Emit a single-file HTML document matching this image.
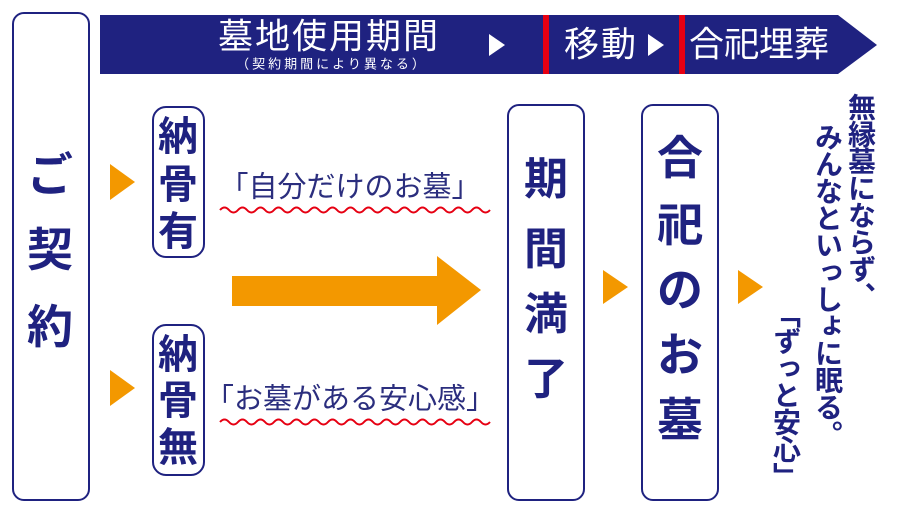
<!DOCTYPE html>
<html><head><meta charset="utf-8"><style>
body{margin:0;width:900px;height:514px;background:#fff;position:relative;overflow:hidden;font-family:"Liberation Sans","Noto Sans CJK JP",sans-serif;color:#1f2280}
.abs{position:absolute}
.box{position:absolute;border:2.5px solid #1f2280;border-radius:12px;box-sizing:border-box;background:#fff}
.c{position:absolute;transform:translate(-50%,-50%);font-weight:bold;line-height:1;white-space:nowrap}
.w{color:#fff;font-weight:normal}
</style></head><body>
<svg class="abs" style="left:0;top:0" width="900" height="514">
<polygon points="100,15 838,15 877,45 838,74 100,74" fill="#1f2280"/>
<rect x="543" y="15" width="6" height="59" fill="#e60012"/>
<rect x="679" y="15" width="6" height="59" fill="#e60012"/>
<polygon points="489,34 489,56 505,45" fill="#fff"/>
<polygon points="648,34 648,56 664,45" fill="#fff"/>
<g fill="#f39800">
<polygon points="110,164 110,200 135,182"/>
<polygon points="110,370 110,406 135,388"/>
<polygon points="232,276 437,276 437,256 481,290 437,325 437,306 232,306"/>
<polygon points="603,270 603,304 628,287"/>
<polygon points="738,270 738,304 763,287"/>
</g>
<g fill="none" stroke="#e60012" stroke-width="2">
<path d="M220 210 q4.5 -5 9 0 t9 0 t9 0 t9 0 t9 0 t9 0 t9 0 t9 0 t9 0 t9 0 t9 0 t9 0 t9 0 t9 0 t9 0 t9 0 t9 0 t9 0 t9 0 t9 0 t9 0 t9 0 t9 0 t9 0 t9 0 t9 0 t9 0 t9 0 t9 0 t9 0"/>
<path d="M220 422 q4.5 -5 9 0 t9 0 t9 0 t9 0 t9 0 t9 0 t9 0 t9 0 t9 0 t9 0 t9 0 t9 0 t9 0 t9 0 t9 0 t9 0 t9 0 t9 0 t9 0 t9 0 t9 0 t9 0 t9 0 t9 0 t9 0 t9 0 t9 0 t9 0 t9 0 t9 0"/>
</g>
</svg>
<div class="c w" style="left:329px;top:37px;font-size:35px;letter-spacing:2px">墓地使用期間</div>
<div class="c w" style="left:332px;top:64px;font-size:13px;letter-spacing:3px">（契約期間により異なる）</div>
<div class="c w" style="left:601px;top:45px;font-size:35px;letter-spacing:2px">移動</div>
<div class="c w" style="left:759px;top:45px;font-size:35px">合祀埋葬</div>

<div class="box" style="left:12px;top:12px;width:78px;height:489px"></div>
<div class="c" style="left:50px;top:175px;font-size:46px">ご</div>
<div class="c" style="left:50px;top:250px;font-size:46px">契</div>
<div class="c" style="left:50px;top:327px;font-size:46px">約</div>

<div class="box" style="left:152px;top:106px;width:53px;height:152px;border-radius:14px"></div>
<div class="c" style="left:178px;top:137px;font-size:40px">納</div>
<div class="c" style="left:178px;top:185px;font-size:40px">骨</div>
<div class="c" style="left:178px;top:232px;font-size:40px">有</div>
<div class="box" style="left:152px;top:324px;width:53px;height:152px;border-radius:14px"></div>
<div class="c" style="left:178px;top:355px;font-size:40px">納</div>
<div class="c" style="left:178px;top:401px;font-size:40px">骨</div>
<div class="c" style="left:178px;top:448px;font-size:40px">無</div>

<div class="c" style="left:350px;top:188px;font-size:29px;font-weight:normal;color:#2b2e7e">「自分だけのお墓」</div>
<div class="c" style="left:350px;top:400px;font-size:29px;font-weight:normal;color:#2b2e7e">「お墓がある安心感」</div>

<div class="box" style="left:507px;top:104px;width:78px;height:397px"></div>
<div class="c" style="left:546px;top:180px;font-size:44px">期</div>
<div class="c" style="left:546px;top:250px;font-size:44px">間</div>
<div class="c" style="left:546px;top:315px;font-size:44px">満</div>
<div class="c" style="left:546px;top:380px;font-size:44px">了</div>

<div class="box" style="left:641px;top:104px;width:78px;height:397px"></div>
<div class="c" style="left:680px;top:158px;font-size:46px">合</div>
<div class="c" style="left:680px;top:225px;font-size:46px">祀</div>
<div class="c" style="left:680px;top:290px;font-size:46px">の</div>
<div class="c" style="left:680px;top:355px;font-size:46px">お</div>
<div class="c" style="left:680px;top:420px;font-size:46px">墓</div>

<div class="abs" style="left:845px;top:93px;writing-mode:vertical-rl;font-size:28px;font-weight:bold;line-height:30px;letter-spacing:-1px">無縁墓にならず、</div>
<div class="abs" style="left:812px;top:123px;writing-mode:vertical-rl;font-size:28px;font-weight:bold;line-height:30px;letter-spacing:-1px">みんなといっしょに眠る。</div>
<div class="abs" style="left:770px;top:300px;writing-mode:vertical-rl;font-size:28px;font-weight:bold;line-height:30px;letter-spacing:-1px">「ずっと安心」</div>
</body></html>
